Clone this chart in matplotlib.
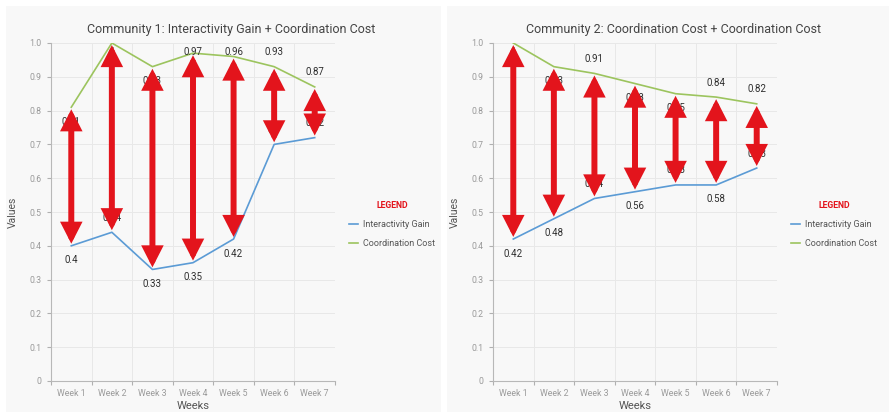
import matplotlib.pyplot as plt
from matplotlib.patches import Rectangle, FancyArrowPatch

plt.rcParams['font.family'] = ['Roboto', 'DejaVu Sans']

weeks = ["Week 1", "Week 2", "Week 3", "Week 4", "Week 5", "Week 6", "Week 7"]

c1_gain = [0.40, 0.44, 0.33, 0.35, 0.42, 0.70, 0.72]
c1_cost = [0.81, 1.00, 0.93, 0.97, 0.96, 0.93, 0.87]
c2_gain = [0.42, 0.48, 0.54, 0.56, 0.58, 0.58, 0.63]
c2_cost = [1.00, 0.93, 0.91, 0.88, 0.85, 0.84, 0.82]

titles = ["Community 1: Interactivity Gain + Coordination Cost",
          "Community 2: Coordination Cost + Coordination Cost"]

# which side of the point each value label sits on (+1 above, -1 below)
c1_gain_side = [-1, 1, -1, -1, -1, 1, 1]
c1_cost_side = [-1, 1, -1, 1, 1, 1, 1]
c2_gain_side = [-1, -1, 1, -1, 1, -1, 1]
c2_cost_side = [1, -1, 1, -1, -1, 1, 1]

BLUE = "#5b9bd5"
GREEN = "#9cc45e"
RED = "#e3141c"
TICK = "#9a9a9a"
GRID = "#e8e8e8"


def fmt(v):
    return f"{v:.2f}".rstrip("0").rstrip(".")


def draw_panel(fig, rect, title, gain, cost, gain_side, cost_side, legend_x):
    ax = fig.add_axes(rect)
    ax.set_facecolor("none")
    x = list(range(len(weeks)))

    ax.plot(x, gain, color=BLUE, lw=1.2, zorder=3, label="Interactivity Gain")
    ax.plot(x, cost, color=GREEN, lw=1.2, zorder=3, label="Coordination Cost")

    # value labels, kept inside the plot area at the top
    for xi, v, s in zip(x, gain, gain_side):
        ax.text(xi, min(v + 0.043 * s, 0.973), fmt(v), ha="center", va="center",
                fontsize=7, color="#2e2e2e", zorder=4)
    for xi, v, s in zip(x, cost, cost_side):
        ax.text(xi, min(v + 0.043 * s, 0.973), fmt(v), ha="center", va="center",
                fontsize=7, color="#2e2e2e", zorder=4)

    # red double arrows spanning the gap between the two series
    for xi, lo, hi in zip(x, gain, cost):
        arr = FancyArrowPatch((xi, lo), (xi, hi),
                              arrowstyle="<|-|>,head_length=9,head_width=4.6",
                              mutation_scale=1, lw=4.3, color=RED,
                              shrinkA=1.5, shrinkB=1.5, zorder=5,
                              joinstyle="miter")
        ax.add_patch(arr)

    ax.set_xlim(-0.5, len(weeks) - 0.5)
    ax.set_ylim(0, 1.0)

    yt = [i / 10 for i in range(11)]
    ax.set_yticks(yt)
    ax.set_yticklabels(["0"] + [f"{t:.1f}" for t in yt[1:]])
    ax.set_xticks([i - 0.5 for i in range(len(weeks) + 1)])
    ax.set_xticklabels([])
    ax.set_xticks(x, minor=True)
    ax.set_xticklabels(weeks, minor=True)
    ax.tick_params(axis="x", which="minor", length=0, pad=6, labelsize=6.3,
                   labelcolor=TICK)
    ax.tick_params(axis="x", which="major", length=3, color="#b0b0b0")
    ax.tick_params(axis="y", length=3, color="#b0b0b0", labelsize=6.3,
                   labelcolor=TICK, pad=4)

    ax.grid(True, which="major", color=GRID, lw=0.7, zorder=0)
    for side in ("top", "right"):
        ax.spines[side].set_visible(False)
    for side in ("left", "bottom"):
        ax.spines[side].set_color("#b8b8b8")
        ax.spines[side].set_linewidth(0.8)

    ax.set_xlabel("Weeks", fontsize=8, color="#555555", labelpad=2)
    ax.set_ylabel("Values", fontsize=7.5, color="#555555", labelpad=8)

    leg = ax.legend(title="LEGEND", loc="center left", frameon=False,
                    bbox_to_anchor=(legend_x, 0.463), fontsize=6.5,
                    handlelength=1.0, handletextpad=0.6, labelspacing=1.15,
                    title_fontsize=6.3)
    leg.get_title().set_color(RED)
    leg.get_title().set_fontweight("bold")
    for t in leg.get_texts():
        t.set_color("#555555")
    return ax


fig = plt.figure(figsize=(8.89, 4.2), dpi=100)
fig.patches.append(Rectangle((6 / 889, 1 - 412 / 420), 435 / 889, 406 / 420,
                             transform=fig.transFigure, facecolor="#f8f8f8",
                             edgecolor="none", zorder=-5))
fig.patches.append(Rectangle((447 / 889, 1 - 412 / 420), 442 / 889, 406 / 420,
                             transform=fig.transFigure, facecolor="#f8f8f8",
                             edgecolor="none", zorder=-5))

draw_panel(fig, [51 / 889, 1 - 381 / 420, 284 / 889, 338 / 420], titles[0],
           c1_gain, c1_cost, c1_gain_side, c1_cost_side, 1.02)
draw_panel(fig, [493 / 889, 1 - 381 / 420, 284 / 889, 338 / 420], titles[1],
           c2_gain, c2_cost, c2_gain_side, c2_cost_side, 1.02)

fig.text(231 / 889, 1 - 29 / 420, titles[0], ha="center", va="center",
         fontsize=9, color="#444444")
fig.text(674 / 889, 1 - 29 / 420, titles[1], ha="center", va="center",
         fontsize=9, color="#444444")

fig.savefig("out.png", dpi=100)
